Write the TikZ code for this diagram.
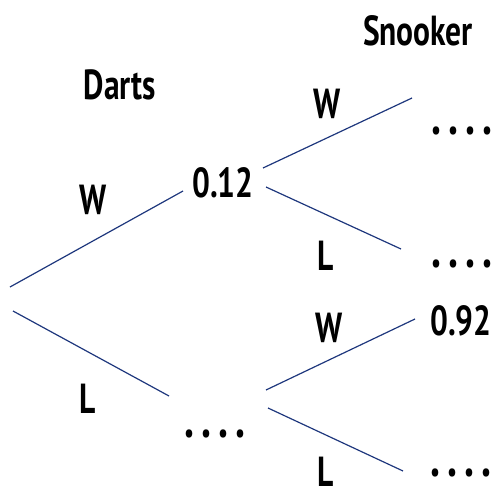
\documentclass[tikz,border=0pt]{standalone}
\usepackage{fontspec}
\setmainfont[FakeStretch=0.75]{PT Sans}
\newcommand{\gapdots}{.\hspace{7pt}.\hspace{7pt}.\hspace{7pt}.}
\begin{document}
\begin{tikzpicture}[x=1pt,y=-1pt,
  lbl/.style={inner sep=0pt,anchor=base,font=\fontsize{42}{42}\selectfont\bfseries},
  dotlbl/.style={lbl,font=\fontsize{54}{54}\selectfont\bfseries},
  branch/.style={draw={rgb,255:red,30;green,55;blue,125},line width=1.2pt}]
\useasboundingbox (0,0) rectangle (501,490);
% labels
\node[lbl] (darts) at (120,99) {Darts};
\node[lbl] (snooker) at (418,45) {Snooker};
\node[lbl] (w1) at (93,214) {W};
\node[lbl] (l1) at (88,413) {L};
\node[lbl] (p012) at (223,197) {0.12};
\node[lbl] (w2) at (327,118) {W};
\node[lbl] (l2) at (326,270) {L};
\node[lbl] (w3) at (329,342) {W};
\node[lbl] (l3) at (326,486) {L};
\node[lbl] (p092) at (461,335) {0.92};
\node[dotlbl] (d1) at (462,134) {\gapdots};
\node[dotlbl] (d2) at (462,267) {\gapdots};
\node[dotlbl] (d3) at (215,437) {\gapdots};
\node[dotlbl] (d4) at (461,476) {\gapdots};
% branch ends
\coordinate (a1) at (10,287);
\coordinate (a2) at (183,191);
\coordinate (b1) at (13,311);
\coordinate (b2) at (169,396);
\coordinate (c1) at (263,168);
\coordinate (c2) at (412,98);
\coordinate (e1) at (266,187);
\coordinate (e2) at (401,249);
\coordinate (f1) at (266,390);
\coordinate (f2) at (415,319);
\coordinate (g1) at (268,408);
\coordinate (g2) at (403,471);
\draw[branch] (a1) -- (a2);
\draw[branch] (b1) -- (b2);
\draw[branch] (c1) -- (c2);
\draw[branch] (e1) -- (e2);
\draw[branch] (f1) -- (f2);
\draw[branch] (g1) -- (g2);
\end{tikzpicture}
\end{document}
